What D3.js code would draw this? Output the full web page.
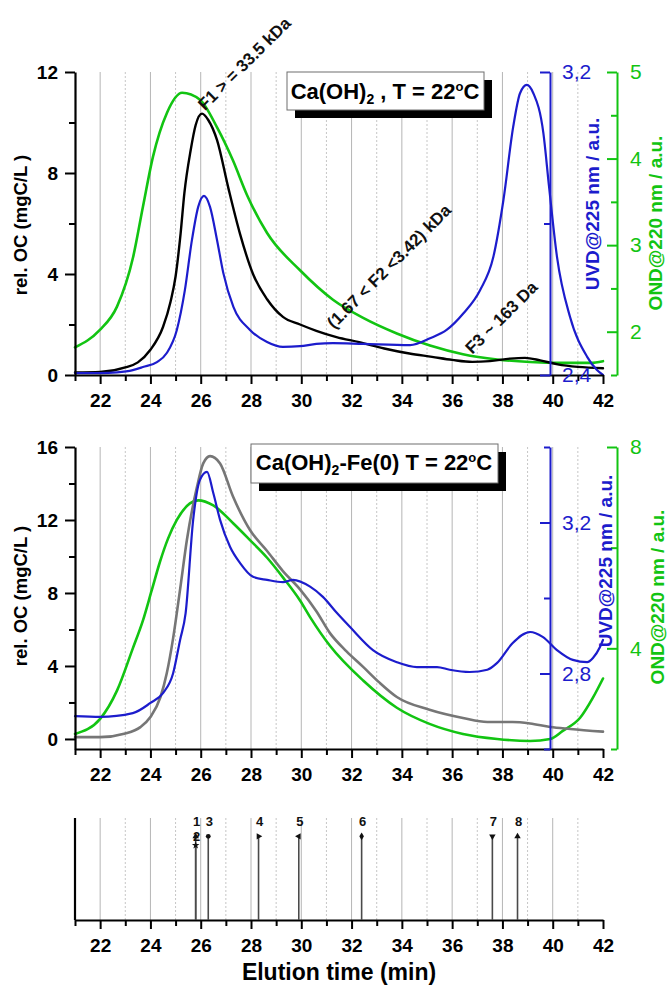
<!DOCTYPE html>
<html>
<head>
<meta charset="utf-8">
<script src="https://cdn.jsdelivr.net/npm/d3@7"></script>
<style>
  html, body { margin: 0; padding: 0; background: #fff; }
  svg { display: block; }
  text { font-family: 'Liberation Sans', Arial, sans-serif; }
</style>
</head>
<body>
<svg id="chart" width="667" height="985"></svg>
<script>
// ---------- data ----------
const timeDomain = [21, 42];
const timeMajorTicks = [22, 24, 26, 28, 30, 32, 34, 36, 38, 40, 42];
const timeMinorTicks = [21, 23, 25, 27, 29, 31, 33, 35, 37, 39, 41];
const gridSolid = [22, 24, 26, 28, 30, 32, 34, 36, 38, 40];
const gridDotted = [23, 25, 27, 29, 31, 33, 35, 37, 39, 41];

// Panel 1: Ca(OH)2, T = 22 °C   [elution time (min), value]
const topOC = [[21,0.1],[22,0.12],[23,0.3],[23.5,0.5],[24,1.0],[24.5,1.9],[24.8,2.9],[25,3.9],[25.2,5.6],
  [25.35,7.2],[25.6,8.9],[25.8,9.9],[26.05,10.35],[26.3,10.1],[26.65,9.3],[27.1,7.4],[27.56,5.6],[28.08,4.0],
  [28.64,3.0],[29.27,2.3],[29.95,2.0],[30.6,1.75],[31.4,1.5],[32.3,1.3],[33.3,1.05],[34.3,0.85],[35.2,0.72],
  [36.0,0.6],[36.8,0.52],[37.5,0.55],[38.3,0.65],[38.9,0.68],[39.5,0.58],[40.2,0.42],[41.0,0.32],[42,0.27]];
const topUV = [[21,2.405],[22,2.405],[22.67,2.407],[23.3,2.413],[23.7,2.421],[24.26,2.434],[24.65,2.458],
  [25.05,2.519],[25.37,2.624],[25.65,2.756],[25.9,2.844],[26.13,2.873],[26.37,2.844],[26.65,2.756],[26.9,2.669],
  [27.3,2.58],[27.96,2.519],[28.64,2.487],[29.27,2.474],[29.95,2.476],[30.6,2.482],[31.26,2.484],[32.46,2.482],
  [34.33,2.479],[35.12,2.497],[35.78,2.519],[36.45,2.563],[37.11,2.624],[37.64,2.712],[38.04,2.862],[38.43,3.056],
  [38.7,3.144],[38.97,3.166],[39.23,3.144],[39.63,3.038],[39.85,2.9],[40.17,2.712],[40.69,2.553],[41.37,2.448],
  [41.76,2.413],[42,2.4]];
const topOND = [[21,1.82],[21.99,2.02],[22.67,2.29],[23.31,2.86],[23.7,3.44],[24.1,4.02],[24.66,4.53],
  [25.26,4.76],[25.97,4.68],[26.65,4.36],[27.28,3.98],[27.84,3.58],[28.64,3.14],[29.95,2.71],[31.26,2.37],
  [32.46,2.16],[33.8,1.98],[35.12,1.84],[36.43,1.74],[37.79,1.68],[39.1,1.65],[40.4,1.64],[41.5,1.64],[42,1.66]];

// Panel 2: Ca(OH)2-Fe(0), T = 22 °C
const midOC = [[21,0.1],[22,0.1],[23,0.3],[23.6,0.65],[24,1.2],[24.4,2.3],[24.65,3.6],[24.9,5.5],[25.18,8.2],
  [25.45,10.9],[25.85,13.8],[26.1,15.1],[26.37,15.5],[26.77,15.1],[27.28,13.3],[27.96,11.45],[28.64,10.3],
  [29.27,9.2],[29.95,8.2],[30.6,7.0],[31.14,5.8],[31.8,4.8],[32.46,3.95],[33.1,3.1],[33.8,2.3],[35.1,1.6],
  [36.43,1.15],[37.4,0.93],[38.4,0.93],[39.1,0.85],[39.9,0.66],[40.7,0.55],[42,0.4]];
const midUV = [[21,2.687],[22,2.685],[23.3,2.695],[24,2.722],[24.5,2.748],[24.9,2.8],[25.18,2.889],[25.4,2.96],
  [25.7,3.207],[25.97,3.313],[26.25,3.334],[26.5,3.278],[26.77,3.207],[27.17,3.135],[27.56,3.093],[28.08,3.056],
  [28.64,3.048],[29.27,3.042],[29.67,3.048],[30.35,3.03],[30.86,3.003],[31.42,2.96],[31.94,2.923],[32.85,2.862],
  [33.8,2.83],[34.6,2.817],[35.4,2.817],[35.9,2.81],[36.7,2.804],[37.4,2.81],[37.79,2.828],[38.4,2.88],[39.1,2.91],
  [39.6,2.897],[40.17,2.862],[40.8,2.836],[41.37,2.83],[41.6,2.841],[41.88,2.87],[42,2.889]];
const midOND = [[21,2.3],[22,2.6],[22.67,3.16],[23.3,4.0],[23.7,4.55],[24.05,5.15],[24.38,5.72],[24.7,6.18],
  [25.05,6.55],[25.57,6.88],[25.9,6.94],[26.5,6.84],[27.3,6.48],[27.96,6.15],[28.64,5.8],[29.27,5.41],[29.95,4.95],
  [30.35,4.62],[31.14,4.05],[32.46,3.36],[33.8,2.82],[35.1,2.5],[36.43,2.3],[37.79,2.2],[39.1,2.16],[39.9,2.2],
  [40.4,2.36],[41.09,2.62],[41.6,3.02],[42,3.4]];

// Panel 3: calibration standards
const markerTimes = [25.8, 25.8, 26.3, 28.3, 29.9, 32.4, 37.6, 38.6];
const markerLabels = ["1", "2", "3", "4", "5", "6", "7", "8"];

// axis ticks
const topOCMajor = [0, 4, 8, 12], topOCMinor = [2, 6, 10];
const topUVMajor = [2.4, 3.2], topUVMinor = [2.8];
const topONDMajor = [2, 3, 4, 5], topONDMinor = [1.5, 2.5, 3.5, 4.5];
const midOCMajor = [0, 4, 8, 12, 16], midOCMinor = [2, 6, 10, 14];
const midUVMajor = [2.8, 3.2], midUVMinor = [2.6, 3.0, 3.4];
const midONDMajor = [4, 8], midONDMinor = [2, 6];

// ---------- styling ----------
const BLUE = "#1c1ccc", GREEN = "#12c412", GRAY = "#767676", BLACK = "#000";
const svg = d3.select("#chart");
const commaFmt = d3.formatLocale({decimal: ",", thousands: ".", grouping: [3], currency: ["", ""]}).format(".1f");

const x = d3.scaleLinear().domain(timeDomain).range([75, 603]);

function grid(y0, y1) {
  const g = svg.append("g");
  g.selectAll("line.s").data(gridSolid).join("line")
    .attr("x1", d => x(d)).attr("x2", d => x(d)).attr("y1", y0).attr("y2", y1)
    .attr("stroke", "#b5b5b5").attr("stroke-width", 1);
  g.selectAll("line.d").data(gridDotted).join("line")
    .attr("x1", d => x(d)).attr("x2", d => x(d)).attr("y1", y0).attr("y2", y1)
    .attr("stroke", "#c6c6c6").attr("stroke-width", 1).attr("stroke-dasharray", "2,2");
}

function styleAxis(g, color, size, weight) {
  g.selectAll("path.domain").attr("stroke", color).attr("stroke-width", 2.2);
  g.selectAll(".tick line").attr("stroke", color).attr("stroke-width", 2);
  g.selectAll(".tick text").attr("fill", color).attr("font-size", size).attr("font-weight", weight)
    .attr("font-family", "'Liberation Sans', Arial, sans-serif");
}

function timeAxis(yPos) {
  const gMin = svg.append("g").attr("transform", `translate(0,${yPos})`)
    .call(d3.axisBottom(x).tickValues(timeMinorTicks).tickSize(6).tickSizeOuter(0).tickFormat(""));
  gMin.select("path.domain").remove();
  styleAxis(gMin, BLACK, 19, "bold");
  const g = svg.append("g").attr("transform", `translate(0,${yPos})`)
    .call(d3.axisBottom(x).tickValues(timeMajorTicks).tickSize(9).tickSizeOuter(0).tickPadding(10).tickFormat(d3.format("d")));
  styleAxis(g, BLACK, 19, "bold");
}

function leftAxis(scale, major, minor) {
  const gMin = svg.append("g").attr("transform", "translate(75,0)")
    .call(d3.axisLeft(scale).tickValues(minor).tickSize(6).tickSizeOuter(0).tickFormat(""));
  gMin.select("path.domain").remove();
  styleAxis(gMin, BLACK, 19, "bold");
  const g = svg.append("g").attr("transform", "translate(75,0)")
    .call(d3.axisLeft(scale).tickValues(major).tickSize(10).tickSizeOuter(0).tickPadding(7).tickFormat(d3.format("d")));
  styleAxis(g, BLACK, 19, "bold");
}

// right-hand axes: ticks point into the plot, labels to the right
function rightAxis(xPos, scale, major, minor, color, fmt, pad) {
  const gMin = svg.append("g").attr("transform", `translate(${xPos},0)`)
    .call(d3.axisRight(scale).tickValues(minor).tickSize(-6).tickSizeOuter(0).tickFormat(""));
  gMin.select("path.domain").remove();
  styleAxis(gMin, color, 21, "normal");
  const g = svg.append("g").attr("transform", `translate(${xPos},0)`)
    .call(d3.axisRight(scale).tickValues(major).tickSize(-10).tickSizeOuter(0).tickPadding(pad).tickFormat(fmt));
  styleAxis(g, color, 21, "normal");
  g.selectAll("path.domain").attr("stroke-width", 2);
}

function curve(data, xs, ys, color, width) {
  svg.append("path").datum(data)
    .attr("d", d3.line().x(d => xs(d[0])).y(d => ys(d[1])).curve(d3.curveMonotoneX))
    .attr("fill", "none").attr("stroke", color).attr("stroke-width", width)
    .attr("stroke-linejoin", "round").attr("stroke-linecap", "round");
}

function vLabel(txt, cx, cy, color, size) {
  svg.append("text").attr("transform", `translate(${cx},${cy}) rotate(-90)`)
    .attr("text-anchor", "middle").attr("font-size", size).attr("font-weight", "bold")
    .attr("fill", color).text(txt);
}

function titleBox(bx, by, bw, bh, cx, baseY, after) {
  svg.append("rect").attr("x", bx + 8).attr("y", by + 8).attr("width", bw).attr("height", bh).attr("fill", "#000");
  svg.append("rect").attr("x", bx).attr("y", by).attr("width", bw).attr("height", bh)
    .attr("fill", "#fff").attr("stroke", "#6e6e6e").attr("stroke-width", 1);
  const t = svg.append("text").attr("x", cx).attr("y", baseY).attr("text-anchor", "middle")
    .attr("font-size", 22).attr("font-weight", "bold").attr("fill", "#000");
  t.append("tspan").text("Ca(OH)");
  t.append("tspan").attr("font-size", 14).attr("dy", 5).text("2");
  t.append("tspan").attr("dy", -5).text(after);
  t.append("tspan").attr("font-size", 13).attr("dy", -8).text("o");
  t.append("tspan").attr("dy", 8).text("C");
}

// ---------- panel 1 ----------
const yTopOC = d3.scaleLinear().domain([0, 12]).range([375, 72]);
const yTopUV = d3.scaleLinear().domain([2.4, 3.2]).range([375, 72]);
const yTopOND = d3.scaleLinear().domain([1.5, 5]).range([375, 72]);

grid(72, 375);
curve(topOND, x, yTopOND, GREEN, 2.6);
curve(topOC, x, yTopOC, BLACK, 2.4);
curve(topUV, x, yTopUV, BLUE, 2.2);
timeAxis(375);
leftAxis(yTopOC, topOCMajor, topOCMinor);
rightAxis(550, yTopUV, topUVMajor, topUVMinor, BLUE, commaFmt, 12);
rightAxis(617, yTopOND, topONDMajor, topONDMinor, GREEN, d3.format("d"), 13);

vLabel("rel. OC (mgC/L )", 27, 225, BLACK, 18.5);
vLabel("UVD@225 nm / a.u.", 599, 204, BLUE, 19);
vLabel("OND@220 nm / a.u.", 662, 223, GREEN, 19);
titleBox(287, 72, 197, 38, 385, 99, " , T = 22");

// fraction annotations
const notes = [
  {t: 26.17, v: 10.45, txt: "F1  > = 33.5 kDa"},
  {t: 31.3, v: 1.8, txt: "(1.67 < F2  <3.42) kDa"},
  {t: 36.8, v: 0.8, txt: "F3 ~ 163 Da"}
];
svg.selectAll("text.note").data(notes).join("text")
  .attr("transform", d => `translate(${x(d.t)},${yTopOC(d.v)}) rotate(-45)`)
  .attr("font-size", 17).attr("font-weight", "bold").attr("fill", "#111").text(d => d.txt);

// ---------- panel 2 ----------
const yMidOC = d3.scaleLinear().domain([-0.55, 16]).range([749, 447]);
const yMidUV = d3.scaleLinear().domain([2.6, 3.4]).range([749, 447]);
const yMidOND = d3.scaleLinear().domain([2, 8]).range([749, 447]);

grid(447, 749);
curve(midOND, x, yMidOND, GREEN, 2.6);
curve(midOC, x, yMidOC, GRAY, 2.6);
curve(midUV, x, yMidUV, BLUE, 2.2);
timeAxis(749);
leftAxis(yMidOC, midOCMajor, midOCMinor);
rightAxis(550, yMidUV, midUVMajor, midUVMinor, BLUE, commaFmt, 12);
rightAxis(617, yMidOND, midONDMajor, midONDMinor, GREEN, d3.format("d"), 13);

vLabel("rel. OC (mgC/L )", 27, 596, BLACK, 18.5);
vLabel("UVD@225 nm / a.u.", 612, 561, BLUE, 19);
vLabel("OND@220 nm / a.u.", 664, 597, GREEN, 19);
titleBox(251, 444, 247, 39, 374, 470, "-Fe(0) T = 22");

// ---------- panel 3: standards ----------
const yStd = d3.scaleLinear().domain([0, 1]).range([920, 818]);
grid(818, 920);
svg.append("line").attr("x1", 75).attr("x2", 75).attr("y1", yStd(1)).attr("y2", 920)
  .attr("stroke", BLACK).attr("stroke-width", 2.2);
timeAxis(920);

const shapes = [
  {type: d3.symbolTriangle, rot: 0}, {type: d3.symbolStar, rot: 0}, {type: d3.symbolCircle, rot: 0},
  {type: d3.symbolTriangle, rot: 90}, {type: d3.symbolTriangle, rot: -90}, {type: d3.symbolDiamond, rot: 0},
  {type: d3.symbolTriangle, rot: 180}, {type: d3.symbolTriangle, rot: 0}
];
const stds = markerTimes.map((t, i) => ({
  t, label: markerLabels[i], shape: shapes[i],
  stack: i > 0 && markerTimes[i - 1] === t ? 1 : 0
}));
const stemTop = 0.82;
const gs = svg.append("g");
gs.selectAll("line").data(stds).join("line")
  .attr("x1", d => x(d.t)).attr("x2", d => x(d.t))
  .attr("y1", 920).attr("y2", d => yStd(stemTop) + d.stack * 9)
  .attr("stroke", "#4a4a4a").attr("stroke-width", 1.6);
gs.selectAll("path").data(stds).join("path")
  .attr("transform", d => `translate(${x(d.t)},${yStd(stemTop) + d.stack * 9}) rotate(${d.shape.rot})`)
  .attr("d", d => d3.symbol().type(d.shape.type).size(18)())
  .attr("fill", "#111");
gs.selectAll("text").data(stds).join("text")
  .attr("x", d => x(d.t) + 1).attr("y", d => 826 + d.stack * 15)
  .attr("text-anchor", "middle").attr("font-size", 13).attr("font-weight", "bold").attr("fill", "#111")
  .text(d => d.label);

svg.append("text").attr("x", 339).attr("y", 980).attr("text-anchor", "middle")
  .attr("font-size", 23).attr("font-weight", "bold").attr("fill", "#000").text("Elution time (min)");
</script>
</body>
</html>
